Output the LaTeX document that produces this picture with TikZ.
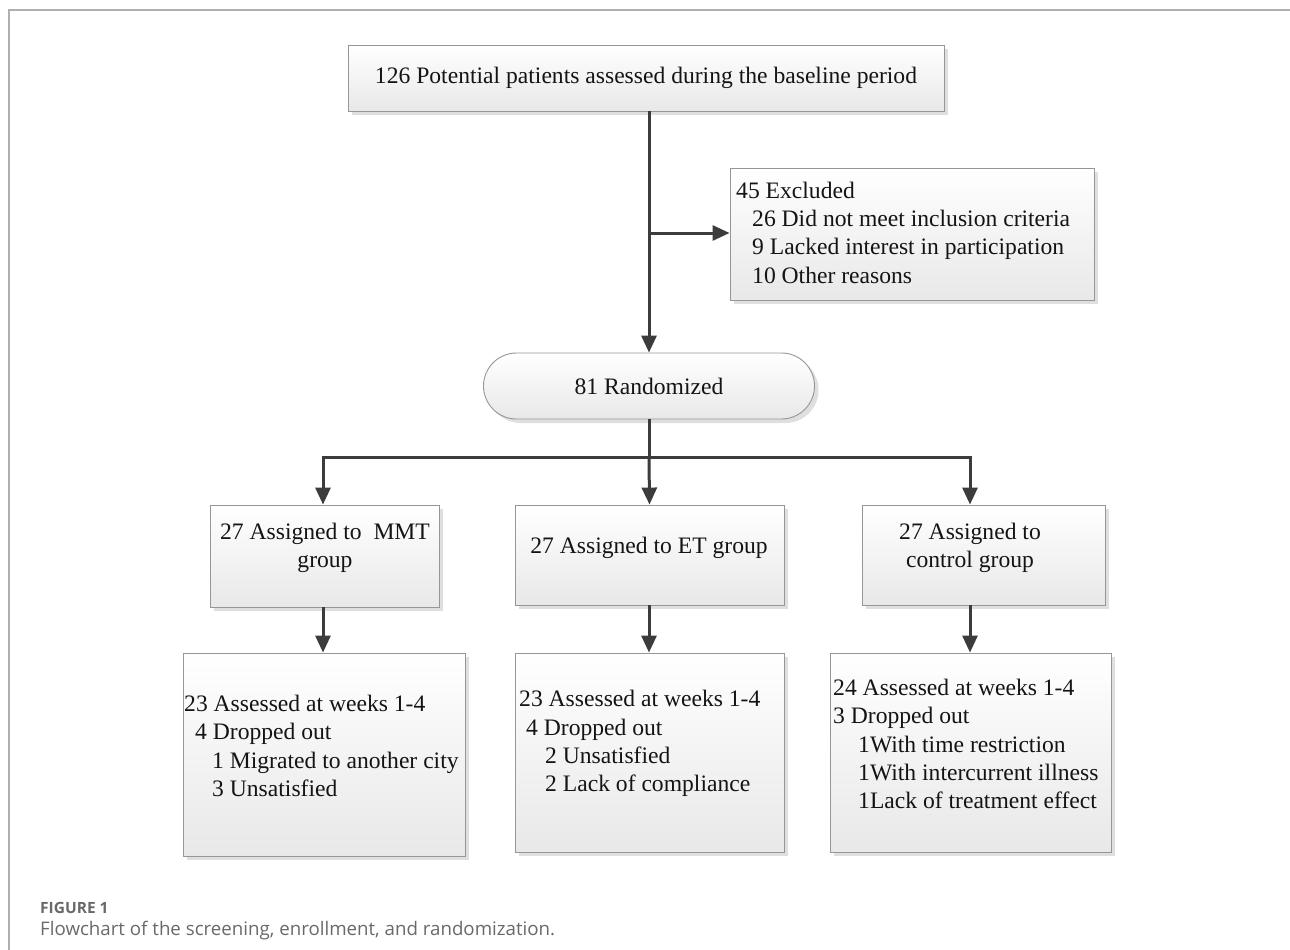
\documentclass[tikz,border=0pt]{standalone}
\usepackage{fontspec}
\setmainfont{Liberation Serif}
\newfontfamily\capfont{Open Sans}
\usetikzlibrary{arrows.meta,shadows}
\definecolor{framegray}{RGB}{175,175,175}
\definecolor{boxborder}{RGB}{150,150,150}
\definecolor{arrowgray}{RGB}{60,60,60}
\definecolor{capgray}{RGB}{105,105,105}
\begin{document}
\begin{tikzpicture}[x=1pt,y=-1pt,
  box/.style={draw=boxborder, line width=0.9pt, top color=white, bottom color=black!9,
    drop shadow={shadow xshift=4pt, shadow yshift=-4pt, fill=black!25, opacity=0.5}, inner sep=0pt},
  txt/.style={font=\fontsize{23.6}{28.3}\selectfont, inner sep=0pt, text=black!92},
  arr/.style={draw=arrowgray, line width=3pt, -{Triangle[length=17pt,width=15pt]}},
  ln/.style={draw=arrowgray, line width=3pt}]
\useasboundingbox (0,0) rectangle (1290,950);
% frame
\draw[framegray, line width=1.5pt] (9,950) -- (9,10) -- (1290,10);

% boxes
\node[box, minimum width=596pt, minimum height=66pt, txt] (top) at (646,78)
  {126 Potential patients assessed during the baseline period};
\node[box, minimum width=364pt, minimum height=132pt] (excl) at (912,234) {};
\node[txt, align=left, anchor=west] (excltxt) at (736,232.5)
  {45 Excluded\\\hspace*{16pt}26 Did not meet inclusion criteria\\\hspace*{16pt}9 Lacked interest in participation\\\hspace*{16pt}10 Other reasons};
\node[box, minimum width=331pt, minimum height=66pt, rounded corners=33pt, txt] (rand) at (649,386) {81 Randomized};

\node[box, minimum width=229pt, minimum height=102pt] (g1) at (324.5,556) {};
\node[txt, align=center] (g1txt) at (325,548) {27 Assigned to\ \ MMT\\group};
\node[box, minimum width=269pt, minimum height=100pt] (g2) at (649.5,555) {};
\node[txt, align=center] (g2txt) at (649,548) {27 Assigned to ET group};
\node[box, minimum width=243pt, minimum height=100pt] (g3) at (983.5,555) {};
\node[txt, align=center] (g3txt) at (970,548) {27 Assigned to\\control group};

\node[box, minimum width=282pt, minimum height=203pt] (o1) at (324,754.5) {};
\node[txt, align=left, anchor=west] (o1txt) at (184,746)
  {23 Assessed at weeks 1-4\\\hspace*{11pt}4 Dropped out\\\hspace*{28pt}1 Migrated to another city\\\hspace*{28pt}3 Unsatisfied};
\node[box, minimum width=269pt, minimum height=199pt] (o2) at (649.5,752.5) {};
\node[txt, align=left, anchor=west] (o2txt) at (519,743.5)
  {23 Assessed at weeks 1-4\\\hspace*{7pt}4 Dropped out\\\hspace*{26pt}2 Unsatisfied\\\hspace*{26pt}2 Lack of compliance};
\node[box, minimum width=281pt, minimum height=199pt] (o3) at (970.5,752.5) {};
\node[txt, align=left, anchor=west] (o3txt) at (833,744)
  {24 Assessed at weeks 1-4\\3 Dropped out\\\hspace*{25pt}1With time restriction\\\hspace*{25pt}1With intercurrent illness\\\hspace*{25pt}1Lack of treatment effect};

% connectors
\coordinate (b1) at (649,233);
\coordinate (b2) at (649,457);
\coordinate (bl) at (323,457);
\coordinate (br) at (970,457);
\draw[ln] (top.south -| rand.north) -- (b1);
\draw[arr] (b1) -- (rand.north);
\draw[arr] (b1) -- (b1 -| excl.west);
\draw[ln] (rand.south) -- (b2);
\draw[arr] (b2) -- (bl) -- (bl |- g1.north);
\draw[arr] (b2) -- (g2.north);
\draw[arr] (b2) -- (br) -- (br |- g3.north);
\draw[arr] (g1.south -| bl) -- (o1.north -| bl);
\draw[arr] (g2.south -| b2) -- (o2.north -| b2);
\draw[arr] (g3.south -| br) -- (o3.north -| br);

% caption
\node[anchor=west, inner sep=0pt, text=capgray, font=\capfont\bfseries\fontsize{15.5}{18}\selectfont] (capa) at (40,908) {FIGURE 1};
\node[anchor=west, inner sep=0pt, text=capgray, font=\capfont\fontsize{18.7}{21}\selectfont] (capb) at (40,931) {Flowchart of the screening, enrollment, and randomization.};
\end{tikzpicture}
\end{document}
